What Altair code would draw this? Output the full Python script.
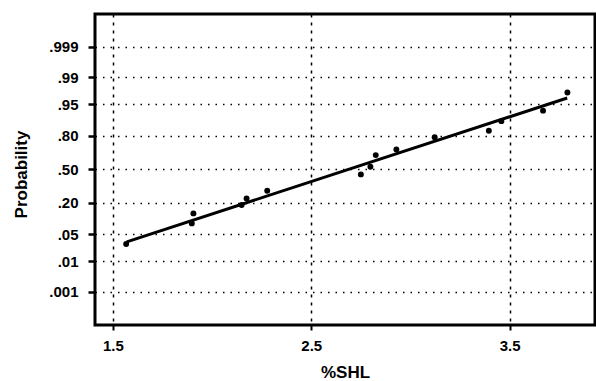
import altair as alt
import pandas as pd

# Observed %SHL values and their normal scores (probability plot)
shl = [1.567, 1.898, 1.906, 2.149, 2.174, 2.278, 2.750, 2.798, 2.825,
       2.929, 3.122, 3.395, 3.458, 3.668, 3.791]
zscore = [-1.887, -1.365, -1.113, -0.903, -0.734, -0.542, -0.129, 0.063,
          0.358, 0.502, 0.812, 0.971, 1.216, 1.481, 1.940]

# Fitted line end points
line_x = [1.57, 3.79]
line_z = [-1.83, 1.80]

# Probability axis
prob_labels = [".999", ".99", ".95", ".80", ".50", ".20", ".05", ".01", ".001"]
prob_z = [3.09, 2.326, 1.645, 0.842, 0.0, -0.842, -1.645, -2.326, -3.09]
x_ticks = [1.5, 2.5, 3.5]

pts = pd.DataFrame({"x": shl, "z": zscore})
ln = pd.DataFrame({"x": line_x, "z": line_z})

label_expr = "[" + ",".join(f"'{l}'" for l in prob_labels) + "][indexof([" + \
    ",".join(str(v) for v in prob_z) + "], datum.value)]"

FONT = "Liberation Sans"

xs = alt.Scale(domain=[1.41, 3.93], nice=False, zero=False)
ys = alt.Scale(domain=[-3.93, 3.92], nice=False, zero=False)

xaxis = alt.Axis(values=x_ticks, format=".1f", grid=True, gridColor="black",
                 gridDash=[3, 5], gridWidth=1.5, tickColor="black", tickSize=5,
                 tickWidth=2, domain=False, labelFont=FONT, labelFontSize=15,
                 labelFontWeight="bold", labelColor="black", labelPadding=8,
                 labelOverlap=False, tickCount=20,
                 title="%SHL", titleFont=FONT, titleFontSize=17,
                 titleFontWeight="bold", titleColor="black", titleY=47,
                 titleBaseline="middle")
yaxis = alt.Axis(values=prob_z, labelExpr=label_expr, grid=True,
                 gridColor="black", gridDash=[1.5, 6], gridWidth=1.5,
                 tickColor="black", tickSize=7, tickWidth=2.5, domain=False,
                 labelFont=FONT, labelFontSize=15, labelFontWeight="bold",
                 labelColor="black", labelPadding=10, labelOverlap=False,
                 tickCount=30,
                 title="Probability",
                 titleFont=FONT, titleFontSize=17, titleFontWeight="bold",
                 titleColor="black", titleX=-74, titleY=160,
                 titleBaseline="middle", titleAngle=-90)

points = alt.Chart(pts).mark_circle(size=35, color="black", opacity=1).encode(
    x=alt.X("x:Q", scale=xs, axis=xaxis),
    y=alt.Y("z:Q", scale=ys, axis=yaxis),
)
line = alt.Chart(ln).mark_line(color="black", strokeWidth=3).encode(
    x=alt.X("x:Q", scale=xs),
    y=alt.Y("z:Q", scale=ys),
)

chart = alt.layer(line, points).properties(
    width=500, height=311,
    autosize=alt.AutoSizeParams(type="none"),
    padding={"left": 95, "top": 14, "right": 1, "bottom": 56},
    background="white",
).configure_view(stroke="black", strokeWidth=3)

chart.save("out.html", embed_options={"renderer": "svg", "actions": False})
